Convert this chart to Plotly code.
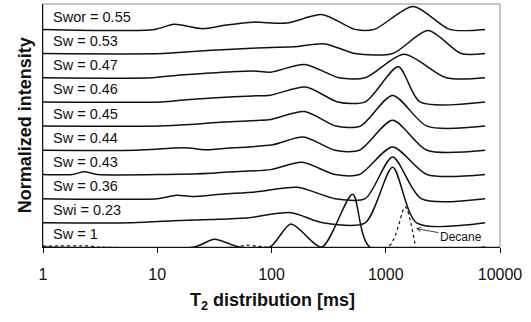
import plotly.graph_objects as go

# ---- data (T2 in ms, normalized intensity) ----
labels = ["Sw = 1", "Swi = 0.23", "Sw = 0.36", "Sw = 0.43", "Sw = 0.44",
          "Sw = 0.45", "Sw = 0.46", "Sw = 0.47", "Sw = 0.53", "Swor = 0.55"]

t2_sw100 = [1, 21, 31.6, 52, 97, 148, 275, 513, 724, 7400]
in_sw100 = [0, 0, 0.32, 0, 0, 0.95, 0, 2.18, 0, 0]

t2_swi23 = [1, 6, 16, 30, 60, 148, 282, 661, 1148, 1862, 7400]
in_swi23 = [0, 0, 0.10, 0.14, 0.20, 0.42, 0, 0, 2.30, 0, 0]

t2_sw36 = [1, 10, 14.8, 20, 38, 74, 168, 360, 661, 1148, 2042, 7400]
in_sw36 = [0, 0, 0.14, 0.09, 0.19, 0.28, 0.47, 0, 0, 1.72, 0, 0]

t2_sw43 = [1, 1.8, 2.3, 3, 12, 30, 41, 98, 185, 360, 589, 1148, 2291, 7400]
in_sw43 = [0, 0, 0.11, 0, 0, 0.05, 0.10, 0.20, 0.50, 0, 0, 1.14, 0, 0]

t2_sw44 = [1, 6.5, 17, 28, 38, 102, 190, 360, 589, 1148, 2291, 7400]
in_sw44 = [0, 0, 0.10, 0.02, 0.07, 0.23, 0.55, 0, 0, 1.24, 0, 0]

t2_sw45 = [1, 10.5, 20, 38, 74, 98, 195, 365, 600, 1148, 2291, 7400]
in_sw45 = [0, 0, 0.07, 0.17, 0.23, 0.27, 0.60, 0, 0, 1.27, 0, 0]

t2_sw46 = [1, 11, 17, 33, 69, 98, 200, 380, 661, 1288, 1995, 7400]
in_sw46 = [0, 0, 0.08, 0.17, 0.25, 0.28, 0.62, 0, 0, 1.45, 0, 0]

t2_sw47 = [1, 9, 15.8, 33, 69, 98, 195, 390, 660, 1445, 3388, 7400]
in_sw47 = [0, 0, 0.11, 0.21, 0.28, 0.23, 0.55, 0, 0, 0.97, 0, 0]

t2_sw53 = [1, 11.2, 22, 41, 74, 155, 295, 537, 1148, 2344, 4571, 7400]
in_sw53 = [0, 0, 0.10, 0.17, 0.23, 0.28, 0.40, 0, 0, 0.95, 0, 0]

t2_sw55 = [1, 9.5, 14, 25, 40, 69, 135, 280, 537, 794, 1738, 3631, 7400]
in_sw55 = [0, 0, 0.21, 0.03, 0.18, 0.30, 0.26, 0.61, 0, 0, 0.95, 0, 0]

t2_decane = [1, 1.15, 2.6, 3, 50, 60, 75, 90, 1047, 1480, 1820]
in_decane = [0.04, 0.04, 0.04, 0, 0, 0.08, 0.03, 0, 0, 1.66, 0]

tick_vals = [1, 10, 100, 1000, 10000]
tick_text = ["1", "10", "100", "1000", "10000"]

series = [(t2_sw100, in_sw100), (t2_swi23, in_swi23), (t2_sw36, in_sw36),
          (t2_sw43, in_sw43), (t2_sw44, in_sw44), (t2_sw45, in_sw45),
          (t2_sw46, in_sw46), (t2_sw47, in_sw47), (t2_sw53, in_sw53),
          (t2_sw55, in_sw55)]

FONT = "Arial, 'Liberation Sans', sans-serif"
fig = go.Figure()

for k, (t2, inten) in enumerate(series):
    fig.add_trace(go.Scatter(
        x=t2, y=[v + k for v in inten], mode="lines",
        line=dict(color="#111111", width=1.5, shape="spline", smoothing=0.75),
        showlegend=False, hoverinfo="skip"))

fig.add_trace(go.Scatter(
    x=t2_decane, y=in_decane, mode="lines",
    line=dict(color="#111111", width=1.2, dash="3px,3px", shape="spline", smoothing=0.75),
    showlegend=False, hoverinfo="skip"))

annotations = []
for k, lab in enumerate(labels):
    annotations.append(dict(x=0.017, xref="paper", y=k + 0.52, yref="y",
                            text=lab, showarrow=False, xanchor="left", yanchor="middle",
                            font=dict(family=FONT, size=14.5, color="#111111")))

annotations.append(dict(x=3.265, y=0.76, xref="x", yref="y", text="Decane",
                        showarrow=True, arrowhead=5, arrowsize=1, arrowwidth=0.8,
                        arrowcolor="#111111", ax=45, ay=8, xanchor="center",
                        font=dict(family=FONT, size=12, color="#111111")))

annotations.append(dict(x=-0.066, xref="paper", y=0.5, yref="paper",
                        text="<b>Normalized intensity</b>", textangle=-90, showarrow=False,
                        font=dict(family=FONT, size=18, color="#111111")))
annotations.append(dict(x=0.502, xref="paper", y=-0.226, yref="paper",
                        text="<b>T<sub>2</sub> distribution [ms]</b>", showarrow=False,
                        yanchor="middle",
                        font=dict(family=FONT, size=18, color="#111111")))

fig.update_layout(
    width=531, height=322,
    margin=dict(l=43, r=31, t=4, b=75),
    paper_bgcolor="white", plot_bgcolor="white",
    annotations=annotations,
    shapes=[dict(type="rect", xref="paper", yref="paper", x0=0, x1=1, y0=0, y1=1,
                 line=dict(color="#8c8c8c", width=1), layer="below")],
    xaxis=dict(type="log", range=[0, 4], tickvals=tick_vals, ticktext=tick_text,
               ticks="outside", ticklen=5, tickcolor="#111111", showgrid=False,
               zeroline=False, showline=True, linecolor="#111111", linewidth=1,
               ticklabelstandoff=8,
               tickfont=dict(family=FONT, size=16, color="#111111")),
    yaxis=dict(range=[0, 10.05], showticklabels=False, ticks="", showgrid=False,
               zeroline=False, showline=True, linecolor="#111111", linewidth=1),
)

fig.write_html("out.html")
